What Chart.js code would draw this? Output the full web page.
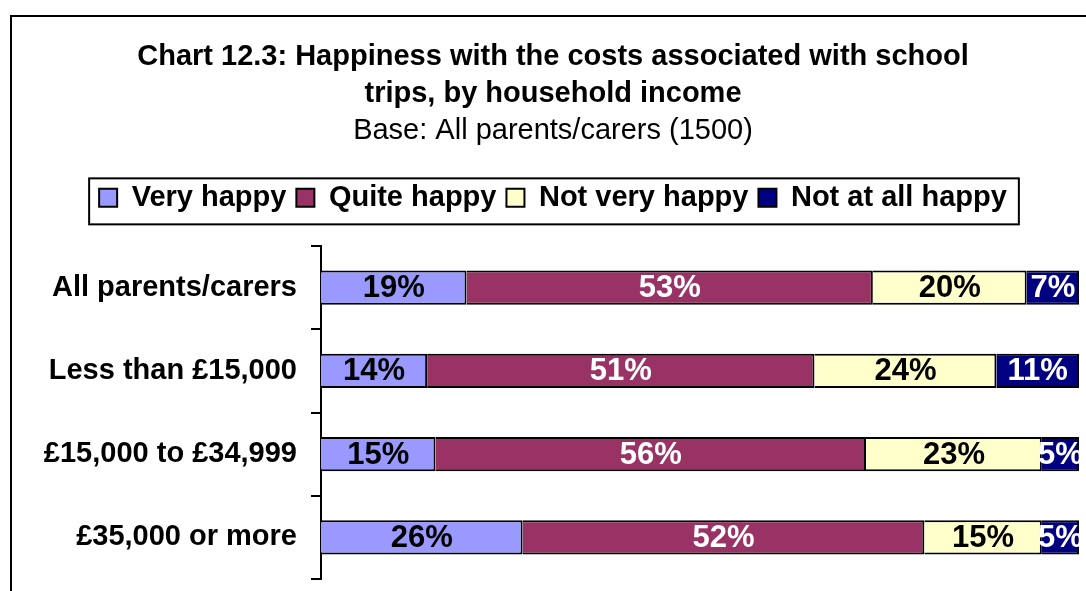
<!DOCTYPE html>
<html>
<head>
<meta charset="utf-8">
<title>Chart 12.3</title>
<script src="https://cdn.jsdelivr.net/npm/chart.js@4.4.0/dist/chart.umd.min.js"></script>
<style>
  html, body { margin: 0; padding: 0; background: #fff; overflow: hidden; }
  #frame { position: absolute; left: 10px; top: 15px; width: 2000px; height: 2000px; border: 2px solid #000; }
  #wrap { position: absolute; left: 0; top: 0; width: 1086px; height: 591px; }
</style>
</head>
<body>
<div id="frame"></div>
<div id="wrap"><canvas id="chart12"></canvas></div>
<script>
// categories (top to bottom)
var groups = ['All parents/carers', 'Less than £15,000', '£15,000 to £34,999', '£35,000 or more'];

// bar lengths (% of row)
var veryHappy     = [19.2, 14.0, 15.1, 26.6];
var quiteHappy    = [53.6, 51.1, 56.8, 53.0];
var notVeryHappy  = [20.3, 24.0, 23.2, 15.5];
var notAtAllHappy = [6.9, 10.9, 4.9, 4.9];

// percentages printed on the bars
var lblVery     = [19, 14, 15, 26];
var lblQuite    = [53, 51, 56, 52];
var lblNotVery  = [20, 24, 23, 15];
var lblNotAtAll = [7, 11, 5, 5];

var FONT = '"Liberation Sans", Arial, Helvetica, sans-serif';
Chart.defaults.font.family = FONT;
Chart.defaults.color = '#000';

// box drawn round the legend, like the Excel one
var legendFrame = {
  id: 'legendFrame',
  afterDraw: function (chart) {
    var hb = chart.legend.legendHitBoxes;
    if (!hb || !hb.length) return;
    var last = hb[hb.length - 1];
    var x1 = hb[0].left - 10;
    var x2 = last.left + last.width + 12;
    var y1 = hb[0].top - 5;
    var y2 = hb[0].top + hb[0].height + 12;
    var ctx = chart.ctx;
    ctx.save();
    ctx.strokeStyle = '#000';
    ctx.lineWidth = 2;
    ctx.strokeRect(x1, y1, x2 - x1, y2 - y1);
    ctx.restore();
  }
};

// percentage text in the middle of each segment
var barLabels = {
  id: 'barLabels',
  afterDatasetsDraw: function (chart) {
    var ctx = chart.ctx;
    var area = chart.chartArea;
    ctx.save();
    ctx.beginPath();
    ctx.rect(area.left, area.top, area.right - area.left, area.bottom - area.top);
    ctx.clip();
    ctx.font = 'bold 31px ' + FONT;
    ctx.textAlign = 'center';
    ctx.textBaseline = 'middle';
    chart.data.datasets.forEach(function (ds, i) {
      var meta = chart.getDatasetMeta(i);
      meta.data.forEach(function (bar, j) {
        var p = bar.getProps(['x', 'y', 'base'], true);
        ctx.fillStyle = ds.labelColor;
        ctx.fillText(ds.printed[j] + '%', (p.x + p.base) / 2, p.y + 1);
      });
    });
    ctx.restore();
  }
};

function series(label, data, printed, fill, textColor) {
  return {
    label: label,
    data: data,
    printed: printed,
    labelColor: textColor,
    backgroundColor: fill,
    borderColor: '#000',
    borderWidth: 2,
    borderSkipped: 'start',
    categoryPercentage: 1,
    barPercentage: 0.41
  };
}

new Chart(document.getElementById('chart12'), {
  type: 'bar',
  data: {
    labels: groups,
    datasets: [
      series('Very happy', veryHappy, lblVery, '#9999FF', '#000'),
      series('Quite happy', quiteHappy, lblQuite, '#993366', '#fff'),
      series('Not very happy', notVeryHappy, lblNotVery, '#FFFFCC', '#000'),
      series('Not at all happy', notAtAllHappy, lblNotAtAll, '#000080', '#fff')
    ]
  },
  plugins: [legendFrame, barLabels],
  options: {
    indexAxis: 'y',
    responsive: true,
    maintainAspectRatio: false,
    animation: false,
    layout: {
      padding: { left: 27, right: 7, top: 0, bottom: 12 }
    },
    plugins: {
      title: {
        display: true,
        text: ['Chart 12.3: Happiness with the costs associated with school', 'trips, by household income'],
        color: '#000',
        font: { size: 29, weight: 'bold', lineHeight: 1.28 },
        padding: { top: 38, bottom: 0 }
      },
      subtitle: {
        display: true,
        text: 'Base: All parents/carers (1500)',
        color: '#000',
        font: { size: 29, weight: 'normal', lineHeight: 1.28 },
        padding: { top: 0, bottom: 24 }
      },
      legend: {
        display: true,
        position: 'top',
        labels: {
          color: '#000',
          font: { size: 29, weight: 'bold' },
          boxWidth: 18,
          boxHeight: 18,
          padding: 10
        }
      },
      tooltip: { enabled: false }
    },
    scales: {
      x: {
        stacked: true,
        min: 0,
        max: 100,
        position: 'top',
        ticks: { display: false },
        grid: { display: false },
        border: { display: false },
        afterFit: function (s) { s.height = 23.64; }
      },
      y: {
        stacked: true,
        z: 1,
        afterFit: function (s) {
          s.width = 294;
          s.paddingTop = 0;
          s.paddingBottom = 0;
        },
        ticks: {
          color: '#000',
          font: { size: 29, weight: 'bold' },
          padding: 14
        },
        grid: {
          offset: true,
          drawOnChartArea: false,
          drawTicks: true,
          tickLength: 10,
          color: '#000',
          lineWidth: 2
        },
        border: { display: true, color: '#000', width: 2 }
      }
    }
  }
});
</script>
</body>
</html>
